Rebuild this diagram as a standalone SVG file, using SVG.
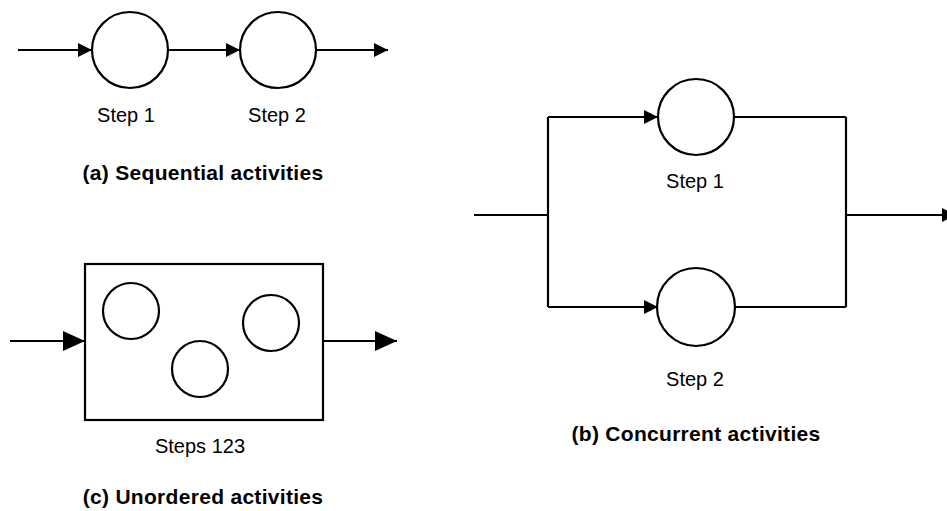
<svg xmlns="http://www.w3.org/2000/svg" width="947" height="511" viewBox="0 0 947 511">
<style>
.ln{fill:none;stroke:#000;stroke-width:2.2}
.nd{fill:#fff;stroke:#000;stroke-width:2.2}
.lbl{font-family:"Liberation Sans",Arial,sans-serif;font-size:20px;fill:#000;text-anchor:middle}
.ttl{font-family:"Liberation Sans",Arial,sans-serif;font-size:21px;font-weight:bold;fill:#000;text-anchor:middle;letter-spacing:0.3px}
</style>
<defs>
<marker id="ah" markerUnits="userSpaceOnUse" markerWidth="15" markerHeight="15" refX="14" refY="7" orient="auto" viewBox="0 0 15 15">
<path d="M0,0 L14,7 L0,14 z" fill="#000"/>
</marker>
<marker id="ahL" markerUnits="userSpaceOnUse" markerWidth="23" markerHeight="21" refX="22" refY="10" orient="auto" viewBox="0 0 23 21">
<path d="M0,0 L22,10 L0,20 z" fill="#000"/>
</marker>
</defs>
<rect width="947" height="511" fill="#fff"/>
<g id="connectors">
<path class="ln" d="M18,50 H92" marker-end="url(#ah)"/>
<path class="ln" d="M168,50 H240" marker-end="url(#ah)"/>
<path class="ln" d="M316,50 H388" marker-end="url(#ah)"/>
<path class="ln" d="M474,215 H548"/>
<path class="ln" d="M548,117 V307"/>
<path class="ln" d="M548,117 H658" marker-end="url(#ah)"/>
<path class="ln" d="M548,307 H658" marker-end="url(#ah)"/>
<path class="ln" d="M734,117 H846"/>
<path class="ln" d="M734,307 H846"/>
<path class="ln" d="M846,117 V307"/>
<path class="ln" d="M846,215 H956" marker-end="url(#ah)"/>
<path class="ln" d="M10,341 H85" marker-end="url(#ahL)"/>
<path class="ln" d="M323,341 H397" marker-end="url(#ahL)"/>
</g>
<g id="a-step1"><circle class="nd" cx="130" cy="50" r="38"/><text class="lbl" x="126" y="122">Step 1</text></g>
<g id="a-step2"><circle class="nd" cx="278" cy="50" r="38"/><text class="lbl" x="277" y="122">Step 2</text></g>
<text class="ttl" x="203" y="180">(a) Sequential activities</text>
<g id="b-step1"><circle class="nd" cx="696" cy="117" r="38"/><text class="lbl" x="695" y="188">Step 1</text></g>
<g id="b-step2"><circle class="nd" cx="696" cy="307" r="39"/><text class="lbl" x="695" y="386">Step 2</text></g>
<text class="ttl" x="696" y="441">(b) Concurrent activities</text>
<g id="c-steps">
<rect class="nd" x="85" y="264" width="238" height="156"/>
<circle class="nd" cx="131" cy="311" r="28"/>
<circle class="nd" cx="200" cy="369" r="28"/>
<circle class="nd" cx="271" cy="323" r="28"/>
<text class="lbl" x="200" y="453">Steps 123</text>
</g>
<text class="ttl" x="203" y="504">(c) Unordered activities</text>
</svg>
